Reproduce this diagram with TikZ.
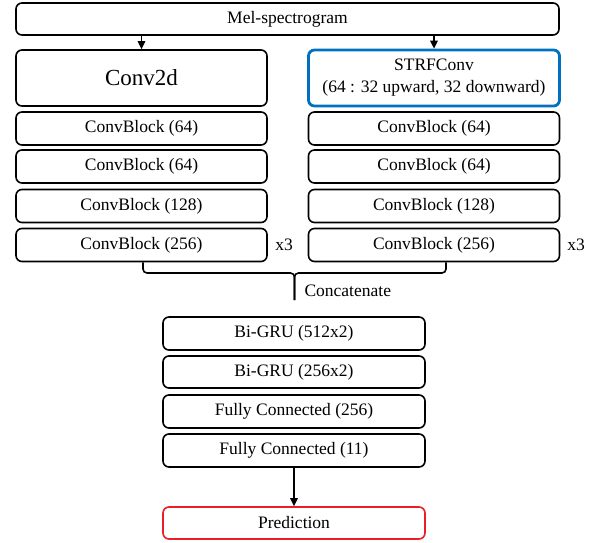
\documentclass[tikz,border=0pt]{standalone}
\usepackage{fontspec}
\setmainfont{Liberation Serif}
\definecolor{strfblue}{RGB}{0,112,192}
\definecolor{predred}{RGB}{235,30,35}
\usetikzlibrary{arrows.meta,positioning}

\begin{document}
\begin{tikzpicture}[x=1pt,y=-1pt,
  layer/.style={draw=#1,rounded corners=6pt,line width=1.6pt,
                minimum width=251pt,minimum height=33pt,inner sep=0pt,
                font=\fontsize{17.5}{22}\selectfont,align=center},
  layer/.default=black,
  arrow/.style={-{Triangle[length=8pt,width=7.5pt]},line width=1.6pt},
  brace/.style={line width=1.6pt,rounded corners=4pt}
]
\useasboundingbox (0,0) rectangle (597,543);

% input
\node[layer,minimum width=543pt,minimum height=32pt] (mel) at (287.5,19) {Mel-spectrogram};

% left branch
\node[layer,minimum height=56pt,font=\fontsize{23}{26}\selectfont] (conv) at (141.5,78) {Conv2d};
\node[layer] (lc1) at (141.5,128.5) {ConvBlock (64)};
\node[layer] (lc2) at (141.5,166.5) {ConvBlock (64)};
\node[layer] (lc3) at (141.5,206) {ConvBlock (128)};
\node[layer] (lc4) at (141.5,245) {ConvBlock (256)};
\node[font=\fontsize{17.5}{22}\selectfont] (lrep) at (284,245) {x3};

% right branch
\node[layer=strfblue,line width=2.8pt,minimum height=56pt] (strf) at (434,78)
  {STRFConv\\(64 : 32 upward, 32 downward)};
\node[layer] (rc1) at (434,128.5) {ConvBlock (64)};
\node[layer] (rc2) at (434,166.5) {ConvBlock (64)};
\node[layer] (rc3) at (434,206) {ConvBlock (128)};
\node[layer] (rc4) at (434,245) {ConvBlock (256)};
\node[font=\fontsize{17.5}{22}\selectfont] (rrep) at (576,245) {x3};

\draw[arrow] (mel.south -| conv.north) -- (conv.north);
\draw[arrow] (mel.south -| strf.north) -- (strf.north);

% concatenate brace
\coordinate (join) at (294.5,273);
\coordinate (tip) at (294.5,300);
\draw[brace] ([xshift=1.5pt]lc4.south) |- (join) -- (tip);
\draw[brace] ([xshift=12pt]rc4.south) |- (join) -- (tip);
\node[anchor=west,font=\fontsize{17.5}{22}\selectfont] (cat) at (301,291) {Concatenate};

% head
\node[layer,minimum width=262pt] (gru1) at (294,333.5) {Bi-GRU (512x2)};
\node[layer,minimum width=262pt,minimum height=32pt] (gru2) at (294,372) {Bi-GRU (256x2)};
\node[layer,minimum width=262pt] (fc1) at (294,411.5) {Fully Connected (256)};
\node[layer,minimum width=262pt] (fc2) at (294,450.5) {Fully Connected (11)};
\node[layer=predred,minimum width=262pt,minimum height=32pt] (pred) at (294,523) {Prediction};

\draw[arrow] (fc2) -- (pred);
\end{tikzpicture}
\end{document}
